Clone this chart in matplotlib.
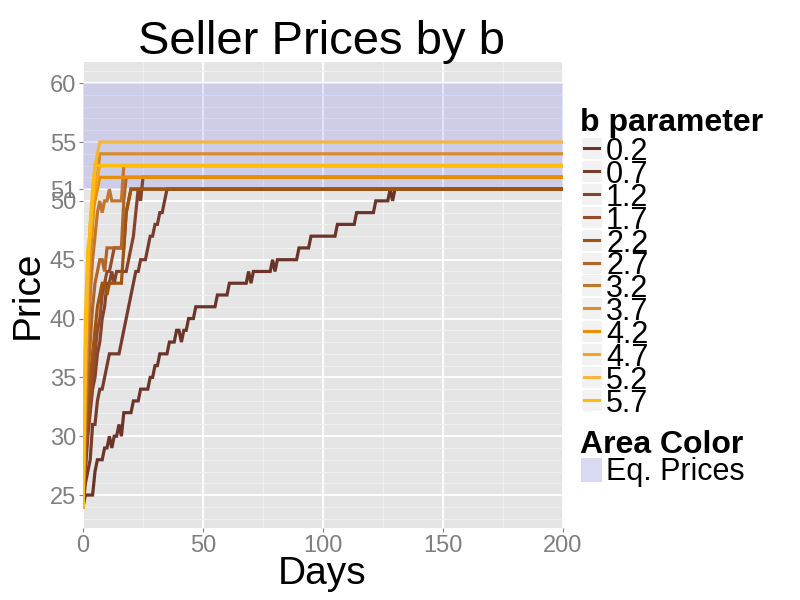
import matplotlib
matplotlib.use("Agg")
import matplotlib.pyplot as plt
from matplotlib.lines import Line2D
from matplotlib.patches import Rectangle

plt.rcParams['font.family'] = ['Liberation Sans', 'DejaVu Sans']

# b parameter values and line colours
b_labels = ['0.2', '0.7', '1.2', '1.7', '2.2', '2.7', '3.2', '3.7', '4.2', '4.7', '5.2', '5.7']
line_colors = ['#6B3429', '#773B2B', '#85432B', '#944D2C', '#A0540F', '#B0652A',
               '#C3752E', '#D98C2F', '#EA8E05', '#F6A41C', '#F8B53E', '#FFBC0A']

# vertices (day, price) of each seller price path
days_b02 = [0, 1, 4, 5, 6, 8, 9, 10, 11, 12, 13, 14, 15, 16, 17, 20, 21, 23, 24, 27,
            28, 29, 30, 31, 32, 35, 36, 38, 39, 40, 41, 42, 43, 44, 46, 47, 55, 56, 60, 61,
            68, 69, 70, 71, 78, 79, 80, 81, 89, 90, 94, 95, 105, 106, 113, 114, 121, 122, 127, 128,
            129, 130, 200]
price_b02 = [24, 25, 25, 27, 28, 28, 29, 29, 30, 29, 30, 30, 31, 30, 32, 32, 33, 33, 34, 34,
             35, 35, 36, 36, 37, 37, 38, 38, 39, 39, 38, 39, 39, 40, 40, 41, 41, 42, 42, 43,
             43, 44, 43, 44, 44, 45, 44, 45, 45, 46, 46, 47, 47, 48, 48, 49, 49, 50, 50, 51,
             50, 51, 51]

days_b07 = [0, 1, 2, 3, 4, 5, 6, 7, 8, 9, 10, 11, 15, 16, 17, 18, 19, 20, 21, 22, 23, 24,
            26, 27, 28, 29, 30, 31, 32, 33, 34, 35, 200]
price_b07 = [24, 26, 27, 28, 31, 31, 33, 34, 34, 35, 36, 37, 37, 38, 39, 40, 41, 42, 43, 44, 44, 45,
             45, 46, 47, 47, 48, 48, 49, 49, 50, 51, 51]

days_b12 = [0, 1, 2, 3, 4, 5, 6, 7, 8, 9, 10, 11, 12, 13, 14, 18, 19, 20, 21, 22, 23, 24, 25, 200]
price_b12 = [24, 27, 30, 32, 34, 35, 37, 38, 40, 41, 43, 43, 44, 43, 44, 44, 45, 46, 47, 49, 51, 50, 52, 52]

days_b17 = [0, 1, 2, 3, 4, 5, 6, 7, 8, 9, 10, 11, 12, 13, 17, 18, 19, 20, 200]
price_b17 = [24, 28, 31, 33, 35, 37, 39, 40, 42, 43, 44, 44, 45, 46, 46, 49, 50, 51, 51]

days_b22 = [0, 1, 2, 3, 4, 5, 6, 7, 8, 9, 10, 11, 16, 17, 18, 19, 20, 200]
price_b22 = [24, 29, 32, 35, 37, 39, 41, 42, 43, 43, 42, 43, 43, 46, 49, 50, 51, 51]

days_b27 = [0, 1, 2, 3, 4, 5, 6, 7, 8, 9, 10, 16, 17, 18, 200]
price_b27 = [24, 30, 35, 38, 41, 43, 44, 45, 45, 44, 46, 46, 50, 52, 52]

days_b32 = [0, 1, 2, 3, 4, 5, 6, 7, 8, 9, 10, 11, 12, 16, 17, 200]
price_b32 = [24, 32, 38, 42, 45, 47, 49, 50, 49, 50, 50, 51, 50, 50, 53, 53]

days_b37 = [0, 1, 2, 3, 4, 5, 6, 7, 200]
price_b37 = [24, 33, 40, 45, 48, 51, 52, 54, 54]

days_b42 = [0, 1, 2, 3, 4, 5, 6, 7, 200]
price_b42 = [24, 35, 42, 46, 49, 50, 51, 52, 52]

days_b47 = [0, 1, 2, 3, 4, 5, 6, 7, 200]
price_b47 = [24, 37, 44, 48, 50, 51, 52, 53, 53]

days_b52 = [0, 1, 2, 3, 4, 5, 6, 7, 200]
price_b52 = [24, 36, 44, 48, 51, 53, 54, 55, 55]

days_b57 = [0, 1, 2, 3, 4, 5, 200]
price_b57 = [24, 40, 46, 47, 50, 53, 53]

all_days = [days_b02, days_b07, days_b12, days_b17, days_b22, days_b27,
            days_b32, days_b37, days_b42, days_b47, days_b52, days_b57]
all_prices = [price_b02, price_b07, price_b12, price_b17, price_b22, price_b27,
              price_b32, price_b37, price_b42, price_b47, price_b52, price_b57]

# equilibrium price band
eq_low, eq_high = 51, 60
x_breaks = [0, 50, 100, 150, 200]
y_breaks = [25, 30, 35, 40, 45, 50, 51, 55, 60]

fig = plt.figure(figsize=(8, 6), dpi=100)
ax = fig.add_axes([83 / 800, 1 - 528 / 600, 480 / 800, 466 / 600])
ax.set_facecolor('#E5E5E5')
for s in ax.spines.values():
    s.set_visible(False)

ax.set_xlim(0, 200)
ax.set_ylim(22.2, 61.8)
ax.set_xticks(x_breaks)
ax.set_yticks(y_breaks)
ax.set_xticks([25, 75, 125, 175], minor=True)
ax.set_yticks(range(23, 62), minor=True)
ax.grid(which='major', color='white', linewidth=1.3)
ax.grid(which='minor', color='#F2F2F2', linewidth=0.6)
ax.set_axisbelow(True)
ax.tick_params(which='major', length=3, width=0.8, color='#7F7F7F',
               labelsize=17, labelcolor='#7F7F7F', pad=2)
ax.tick_params(which='minor', length=0)

ax.fill_between([0, 200], eq_low, eq_high, color='blue', alpha=0.1, linewidth=0, zorder=1.5)

for d, p, c in zip(all_days, all_prices, line_colors):
    ax.plot(d, p, color=c, linewidth=2.3, solid_joinstyle='miter', zorder=2)

fig.text(322 / 800, 1 - 42 / 600, 'Seller Prices by b', ha='center', va='center', fontsize=34)
fig.text(322 / 800, 1 - 574 / 600, 'Days', ha='center', va='center', fontsize=28)
fig.text(28 / 800, 1 - 295 / 600, 'Price', ha='center', va='center', fontsize=28, rotation=90)

# legend drawn in figure pixels
def fx(px):
    return px / 800

def fy(py):
    return 1 - py / 600

fig.text(fx(580), fy(123), 'b parameter', ha='left', va='center', fontsize=23, fontweight='bold')
for i, (lab, c) in enumerate(zip(b_labels, line_colors)):
    cy = 148 + 22.9 * i
    fig.patches.append(Rectangle((fx(581), fy(cy + 11)), 21 / 800, 22 / 600,
                                 transform=fig.transFigure, facecolor='#F2F2F2',
                                 edgecolor='white', linewidth=0.8))
    fig.lines.append(Line2D([fx(584), fx(599)], [fy(cy), fy(cy)], transform=fig.transFigure,
                            color=c, linewidth=2.2))
    fig.text(fx(606), fy(cy + 4), lab, ha='left', va='center', fontsize=22)

fig.text(fx(580), fy(445), 'Area Color', ha='left', va='center', fontsize=23, fontweight='bold')
fig.patches.append(Rectangle((fx(581), fy(482)), 21 / 800, 24 / 600, transform=fig.transFigure,
                             facecolor='#F2F2F2', edgecolor='none'))
fig.patches.append(Rectangle((fx(581), fy(482)), 21 / 800, 24 / 600, transform=fig.transFigure,
                             facecolor='blue', alpha=0.1, edgecolor='none'))
fig.text(fx(606), fy(472), 'Eq. Prices', ha='left', va='center', fontsize=22)

fig.savefig('out.png', dpi=100)
